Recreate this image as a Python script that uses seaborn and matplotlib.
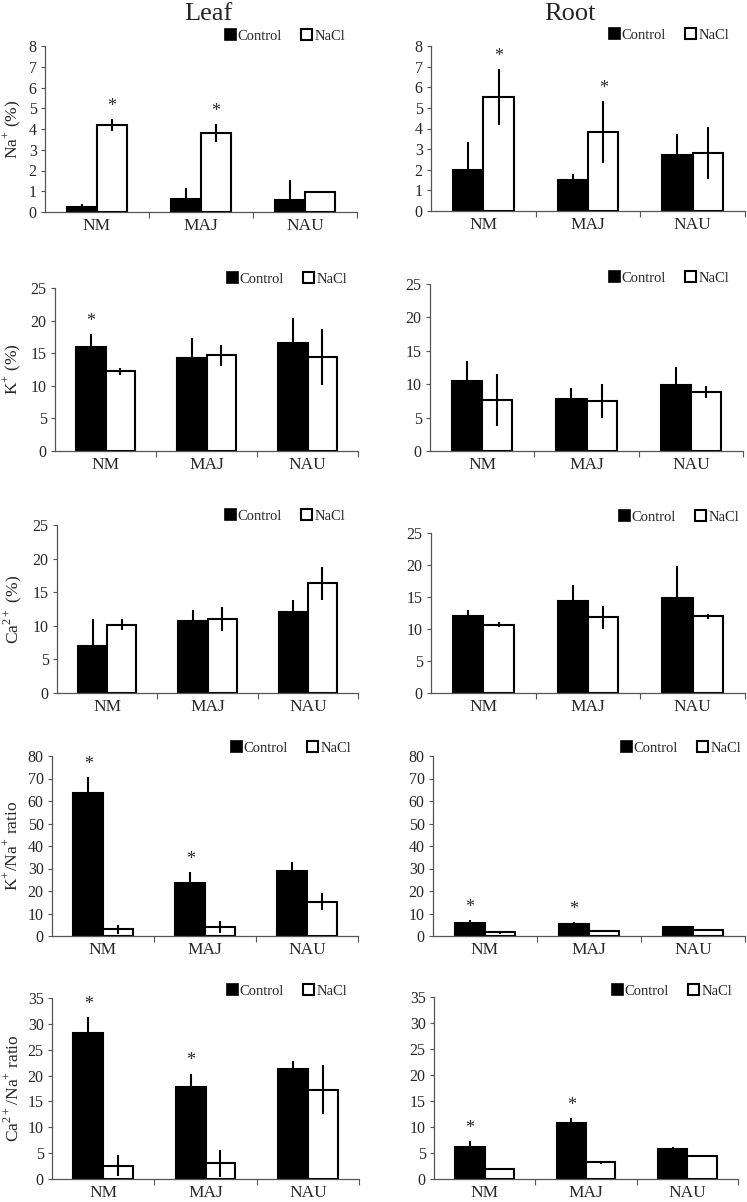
import pandas as pd
import seaborn as sns
import matplotlib.pyplot as plt
import matplotlib.transforms as mtransforms
from matplotlib.patches import Patch

# -------------------------------
# Data
# -------------------------------
categories = ["NM", "MAJ", "NAU"]
treatments = ["Control", "NaCl"]

na_leaf_ctrl = [0.25, 0.62, 0.57]
na_leaf_ctrl_err = [0.15, 0.56, 0.95]
na_leaf_nacl = [4.2, 3.8, 0.95]
na_leaf_nacl_err = [0.28, 0.45, 0.05]

na_root_ctrl = [2.0, 1.5, 2.7]
na_root_ctrl_err = [1.35, 0.27, 1.05]
na_root_nacl = [5.52, 3.82, 2.8]
na_root_nacl_err = [1.35, 1.5, 1.25]

k_leaf_ctrl = [15.9, 14.3, 16.5]
k_leaf_ctrl_err = [2.05, 3.1, 3.9]
k_leaf_nacl = [12.2, 14.7, 14.4]
k_leaf_nacl_err = [0.6, 1.6, 4.25]

k_root_ctrl = [10.55, 7.8, 9.9]
k_root_ctrl_err = [2.9, 1.6, 2.65]
k_root_nacl = [7.7, 7.55, 8.8]
k_root_nacl_err = [3.9, 2.55, 0.9]

ca_leaf_ctrl = [7.05, 10.75, 12.1]
ca_leaf_ctrl_err = [3.9, 1.6, 1.75]
ca_leaf_nacl = [10.15, 11.0, 16.3]
ca_leaf_nacl_err = [0.82, 1.8, 2.4]

ca_root_ctrl = [12.0, 14.3, 14.85]
ca_root_ctrl_err = [0.9, 2.65, 5.0]
ca_root_nacl = [10.7, 11.8, 12.0]
ca_root_nacl_err = [0.45, 1.75, 0.4]

kna_leaf_ctrl = [63.5, 23.5, 29.0]
kna_leaf_ctrl_err = [7.0, 5.0, 3.7]
kna_leaf_nacl = [3.0, 4.0, 15.3]
kna_leaf_nacl_err = [2.0, 2.7, 3.9]

kna_root_ctrl = [5.6, 5.5, 4.0]
kna_root_ctrl_err = [1.5, 0.7, 0.3]
kna_root_nacl = [1.6, 2.2, 2.6]
kna_root_nacl_err = [0.6, 0.5, 0.2]

cana_leaf_ctrl = [28.2, 17.7, 21.2]
cana_leaf_ctrl_err = [3.1, 2.7, 1.7]
cana_leaf_nacl = [2.6, 3.0, 17.3]
cana_leaf_nacl_err = [2.05, 2.65, 4.75]

cana_root_ctrl = [6.1, 10.85, 5.7]
cana_root_ctrl_err = [1.2, 0.85, 0.4]
cana_root_nacl = [2.0, 3.2, 4.35]
cana_root_nacl_err = [0.1, 0.25, 0.1]

# -------------------------------
# Figure setup
# -------------------------------
sns.set_style("ticks")
plt.rcParams["font.family"] = ["Liberation Serif", "DejaVu Serif"]
plt.rcParams["mathtext.fontset"] = "custom"
plt.rcParams["mathtext.rm"] = "Liberation Serif"

W, H = 747, 1202
fig = plt.figure(figsize=(W / 100, H / 100), dpi=100)

# panel: (axes px box left, y0, right, ytop), ylabel, ymax, step, data, stars, legend anchor px (right, y)
panels = [
    ((45, 212, 357, 46), "Na$^{+}$ (%)", 8, 1,
     (na_leaf_ctrl, na_leaf_ctrl_err, na_leaf_nacl, na_leaf_nacl_err),
     [(0, 1), (1, 1)], (345, 36)),
    ((431, 211, 745, 46), None, 8, 1,
     (na_root_ctrl, na_root_ctrl_err, na_root_nacl, na_root_nacl_err),
     [(0, 1), (1, 1)], (729, 35)),
    ((55, 451, 358, 288), "K$^{+}$ (%)", 25, 5,
     (k_leaf_ctrl, k_leaf_ctrl_err, k_leaf_nacl, k_leaf_nacl_err),
     [(0, 0)], (347, 279)),
    ((430, 451, 743, 284), None, 25, 5,
     (k_root_ctrl, k_root_ctrl_err, k_root_nacl, k_root_nacl_err),
     [], (729, 278)),
    ((57, 693, 358, 525), "Ca$^{2+}$ (%)", 25, 5,
     (ca_leaf_ctrl, ca_leaf_ctrl_err, ca_leaf_nacl, ca_leaf_nacl_err),
     [], (345, 516)),
    ((431, 693, 745, 533), None, 25, 5,
     (ca_root_ctrl, ca_root_ctrl_err, ca_root_nacl, ca_root_nacl_err),
     [], (739, 517)),
    ((52, 936, 358, 756), "K$^{+}$/Na$^{+}$ ratio", 80, 10,
     (kna_leaf_ctrl, kna_leaf_ctrl_err, kna_leaf_nacl, kna_leaf_nacl_err),
     [(0, 0), (1, 0)], (351, 748)),
    ((433, 936, 745, 756), None, 80, 10,
     (kna_root_ctrl, kna_root_ctrl_err, kna_root_nacl, kna_root_nacl_err),
     [(0, 0), (1, 0)], (741, 748)),
    ((52, 1179, 359, 998), "Ca$^{2+}$/Na$^{+}$ ratio", 35, 5,
     (cana_leaf_ctrl, cana_leaf_ctrl_err, cana_leaf_nacl, cana_leaf_nacl_err),
     [(0, 0), (1, 0)], (347, 991)),
    ((434, 1179, 738, 997), None, 35, 5,
     (cana_root_ctrl, cana_root_ctrl_err, cana_root_nacl, cana_root_nacl_err),
     [(0, 0), (1, 0)], (732, 991)),
]

for box, ylabel, ymax, step, (ctrl, ctrl_err, nacl, nacl_err), stars, leg in panels:
    left, y0, right, ytop = box
    ax = fig.add_axes([left / W, 1 - y0 / H, (right - left) / W, (y0 - ytop) / H])

    df = pd.DataFrame({
        "site": categories * 2,
        "treatment": ["Control"] * 3 + ["NaCl"] * 3,
        "value": ctrl + nacl,
    })
    sns.barplot(data=df, x="site", y="value", hue="treatment",
                order=categories, hue_order=treatments,
                palette=["black", "white"], edgecolor="black", linewidth=1.5,
                width=0.58, errorbar=None, legend=False, ax=ax)

    # error bars: control only upward (bar is black), NaCl both ways
    tops = {}
    for t, (container, errs) in enumerate(zip(ax.containers, [ctrl_err, nacl_err])):
        for i, (bar, e) in enumerate(zip(container, errs)):
            x = bar.get_x() + bar.get_width() / 2
            y = bar.get_height()
            yerr = [[0], [e]] if t == 0 else [[e], [e]]
            ax.errorbar(x, y, yerr=yerr, color="black", lw=1.5, capsize=0)
            tops[(i, t)] = (x, y + e)

    for key in stars:
        x, y = tops[key]
        ax.annotate("*", xy=(x, y), xytext=(0, 3), textcoords="offset points",
                    ha="center", va="bottom", fontsize=13)

    ax.set_xlim(-0.5, 2.5)
    ax.set_ylim(0, ymax)
    ax.set_yticks(range(0, ymax + 1, step))
    ax.set_xticks([0, 1, 2])
    ax.set_xticklabels(categories)
    ax.set_xticks([0.5, 1.5, 2.5], minor=True)
    ax.tick_params(axis="x", which="major", length=0, labelsize=12.5, pad=4)
    ax.tick_params(axis="x", which="minor", length=4, width=0.8, color="#555555")
    ax.tick_params(axis="y", length=3, width=0.8, color="#555555", labelsize=11.5, pad=3)
    ax.set_xlabel("")
    for s in ["top", "right"]:
        ax.spines[s].set_visible(False)
    for s in ["left", "bottom"]:
        ax.spines[s].set_color("#555555")
        ax.spines[s].set_linewidth(0.9)

    if ylabel:
        ax.set_ylabel(ylabel, fontsize=12.5)
        trans = mtransforms.blended_transform_factory(fig.transFigure, ax.transAxes)
        ax.yaxis.set_label_coords(13 / W, 0.5, transform=trans)
        ax.yaxis.label.set_va("center")
    else:
        ax.set_ylabel("")

    handles = [Patch(facecolor="black", edgecolor="black", linewidth=1.2),
               Patch(facecolor="white", edgecolor="black", linewidth=1.5)]
    ax.legend(handles, treatments, ncol=2, frameon=False, fontsize=10.5,
              handlelength=0.75, handleheight=0.75, handletextpad=0.15,
              columnspacing=1.3, borderpad=0, borderaxespad=0,
              loc="center right", bbox_to_anchor=(leg[0] / W, 1 - leg[1] / H),
              bbox_transform=fig.transFigure)

fig.text(208 / W, 1 - 14 / H, "Leaf", ha="center", va="center", fontsize=19)
fig.text(570 / W, 1 - 14 / H, "Root", ha="center", va="center", fontsize=19)

plt.savefig("out.png", dpi=100)
